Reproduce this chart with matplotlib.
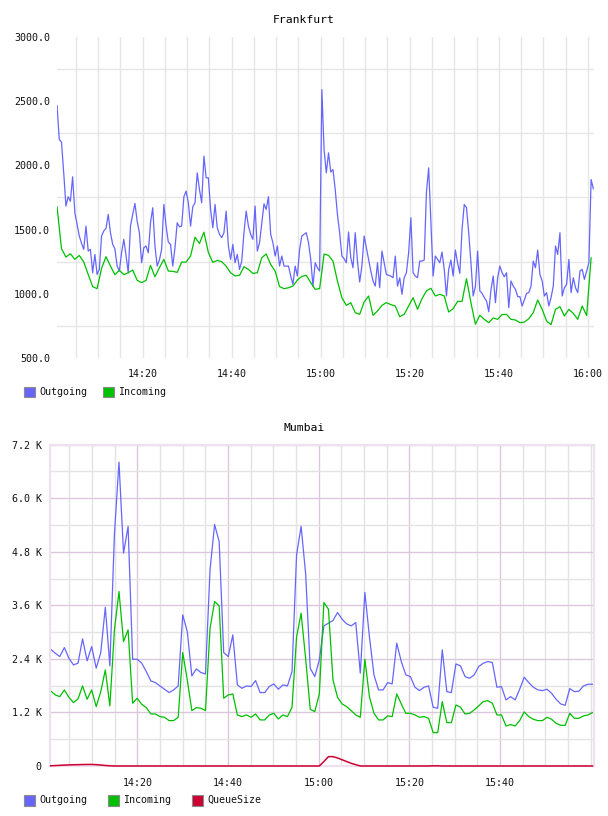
import matplotlib
matplotlib.use("Agg")
import matplotlib.pyplot as plt
from matplotlib.ticker import FixedLocator, MultipleLocator, FuncFormatter
from matplotlib.patches import Rectangle

# all x values are minutes after 14:00
fra_out_start, fra_out_step = 0.75, 0.5
fra_in_start, fra_in_step = 0.75, 1.0
mum_start, mum_step = 0.9, 1.004

fra_outgoing = [
    2466, 2202, 2181, 1942, 1683, 1756, 1720, 1911, 1631, 1540,
    1450, 1393, 1346, 1527, 1333, 1346, 1164, 1307, 1151, 1190,
    1450, 1489, 1510, 1618, 1476, 1385, 1351, 1216, 1177, 1320,
    1424, 1300, 1164, 1527, 1618, 1704, 1566, 1476, 1242, 1359,
    1372, 1320, 1553, 1670, 1372, 1216, 1263, 1346, 1696, 1527,
    1403, 1385, 1216, 1359, 1553, 1522, 1527, 1756, 1800, 1709,
    1527, 1678, 1709,
    1942, 1813, 1709, 2072, 1903, 1903, 1657,
    1514, 1696, 1514, 1463, 1437, 1476, 1644, 1372, 1268, 1385,
    1242, 1307, 1190, 1255, 1476, 1644, 1527, 1463, 1424, 1683,
    1333, 1398, 1553, 1701, 1657, 1756, 1463, 1398, 1294, 1372,
    1216, 1294, 1216, 1216, 1216, 1138, 1074, 1216, 1138, 1346,
    1450, 1463, 1476, 1398, 1268, 1060, 1242, 1203, 1177, 2590,
    2124, 1942, 2098,
    1948, 1968, 1813, 1618, 1476, 1294, 1273,
    1242, 1481, 1281, 1203, 1476, 1255, 1092, 1216, 1450, 1359,
    1268, 1177, 1100, 1060, 1242, 1047, 1333, 1242, 1151, 1144,
    1138, 1125, 1294, 1060, 1125, 996, 1125, 1164, 1320, 1592,
    1164, 1138, 1125, 1255, 1255, 1263, 1790, 1981, 1553, 1138,
    1294, 1268, 1242, 1325, 1190, 983, 1190, 1263, 1138, 1341,
    1242, 1159, 1502, 1696,
    1670, 1476, 1242, 983, 1056, 1333,
    1022, 1004, 970, 944, 860, 1030, 1138, 931, 1125, 1216,
    1164, 1133, 1164, 892, 1100, 1060, 1035, 978, 978, 905,
    952, 1004, 1009, 1060, 1255, 1203, 1341, 1151, 1100, 983,
    1009, 905, 970, 1060, 1372, 1307, 1476, 983, 1047, 1074,
    1268, 1009, 1125, 1047, 1009, 1177, 1190, 1112, 1177, 1242,
    1890, 1818,
]

fra_incoming = [
    1678, 1351, 1286, 1312, 1268, 1299, 1247, 1151, 1056, 1040,
    1198, 1289, 1216, 1149, 1183, 1149, 1164, 1185, 1105, 1087,
    1105, 1221, 1133, 1203, 1268, 1177, 1175, 1167, 1247, 1247,
    1294, 1441, 1392, 1480, 1322, 1245, 1260, 1250, 1215, 1164,
    1139, 1144, 1211, 1190, 1159, 1164, 1281, 1310, 1229, 1177,
    1056, 1040, 1047, 1060, 1107, 1136, 1144, 1087, 1035, 1040,
    1310, 1299, 1255, 1100, 970, 910, 931, 853, 840, 936,
    983, 833, 866, 910, 931, 916, 905, 822, 840, 905,
    970, 879, 962, 1022, 1043, 983, 996, 983, 858, 884,
    941, 941, 1118, 931, 763, 833, 801, 775, 812, 801,
    838, 840, 801, 796, 775, 780, 806, 853, 952, 879,
    788, 760, 879, 900, 827, 879, 848, 801, 905, 830,
    1280,
]

# Mumbai values in thousands
mum_outgoing = [
    2.617, 2.527, 2.452, 2.654, 2.415, 2.266, 2.303, 2.849, 2.355, 2.677,
    2.191, 2.542, 3.559, 2.243, 5.2, 6.81, 4.77, 5.37, 2.393, 2.393,
    2.303, 2.116, 1.907, 1.869, 1.794, 1.720, 1.645, 1.705, 1.794, 3.387,
    3.013, 2.019, 2.176, 2.094, 2.064, 4.4, 5.41, 5.03, 2.542, 2.452,
    2.938, 1.817, 1.742, 1.794, 1.780, 1.914, 1.645, 1.645, 1.780, 1.839,
    1.720, 1.817, 1.794, 2.116, 4.73, 5.37, 4.3, 2.191, 2.004, 2.378,
    3.140, 3.200, 3.260, 3.439, 3.290, 3.185, 3.140, 3.215, 2.079, 3.89,
    2.9, 2.041, 1.705, 1.705, 1.869, 1.839, 2.752, 2.340, 2.041, 2.004,
    1.765, 1.690, 1.765, 1.794, 1.316, 1.294, 2.602, 1.667, 1.645, 2.288,
    2.243, 2.004, 1.966, 2.041, 2.228, 2.303, 2.340, 2.318, 1.765, 1.780,
    1.480, 1.555, 1.480, 1.720, 1.989, 1.869, 1.765, 1.705, 1.690, 1.720,
    1.630, 1.495, 1.391, 1.361, 1.735, 1.667, 1.675, 1.794, 1.832, 1.832,
]

mum_incoming = [
    1.682, 1.593, 1.555, 1.705, 1.540, 1.421, 1.503, 1.794, 1.495, 1.705,
    1.331, 1.667, 2.153, 1.346, 3.05, 3.91, 2.789, 3.051, 1.406, 1.518,
    1.383, 1.308, 1.166, 1.166, 1.107, 1.092, 1.017, 1.017, 1.092, 2.542,
    1.929, 1.241, 1.308, 1.294, 1.241, 3.088, 3.686, 3.589, 1.518, 1.593,
    1.615, 1.144, 1.107, 1.144, 1.092, 1.166, 1.032, 1.032, 1.144, 1.181,
    1.054, 1.144, 1.107, 1.316, 2.886, 3.424, 2.4, 1.271, 1.219, 1.615,
    3.664, 3.514, 1.929, 1.540, 1.391, 1.331, 1.241, 1.144, 1.092, 2.393,
    1.555, 1.181, 1.032, 1.032, 1.122, 1.107, 1.615, 1.391, 1.181, 1.181,
    1.144, 1.092, 1.107, 1.069, 0.748, 0.748, 1.443, 0.972, 0.972, 1.368,
    1.316, 1.166, 1.181, 1.256, 1.346, 1.443, 1.465, 1.406, 1.144, 1.144,
    0.897, 0.927, 0.897, 1.017, 1.211, 1.107, 1.047, 1.017, 1.017, 1.092,
    1.047, 0.957, 0.912, 0.912, 1.181, 1.069, 1.069, 1.122, 1.144, 1.196,
]

mum_queue = [
    0.005, 0.01, 0.015, 0.02, 0.025, 0.028, 0.03, 0.033, 0.035, 0.035,
    0.03, 0.022, 0.012, 0.005, 0, 0, 0, 0, 0, 0,
    0, 0, 0, 0, 0, 0, 0, 0, 0, 0,
    0, 0, 0, 0, 0, 0, 0, 0, 0, 0,
    0, 0, 0, 0, 0, 0, 0, 0, 0, 0,
    0, 0, 0, 0, 0, 0, 0, 0, 0, 0,
    0.1, 0.21, 0.21, 0.18, 0.14, 0.1, 0.06, 0.03, 0, 0,
    0, 0, 0, 0, 0, 0, 0, 0, 0, 0,
    0, 0, 0, 0, 0.004, 0.004, 0, 0, 0, 0,
    0, 0, 0, 0, 0, 0, 0, 0, 0, 0,
    0, 0, 0, 0, 0, 0, 0, 0, 0, 0,
    0, 0, 0, 0, 0, 0, 0, 0, 0, 0,
]

series_labels = ["Outgoing", "Incoming", "QueueSize"]
colors = ["#6666ff", "#00c000", "#cc0033"]

W, H = 608, 816
plt.rcParams['font.family'] = ['DejaVu Sans Mono']

def times(start, step, n):
    return [start + i * step for i in range(n)]

def hhmm(m, pos):
    m = int(round(m))
    return "%d:%02d" % (14 + m // 60, m % 60)

def box(l, t, r, b):
    # pixel box -> figure fraction rect
    return [l / W, 1 - b / H, (r - l) / W, (b - t) / H]

def legend_row(fig, y, items):
    for x, label, color in items:
        fig.add_artist(Rectangle((x / W, 1 - (y + 5.5) / H), 11 / W, 11 / H,
                                 transform=fig.transFigure, facecolor=color,
                                 edgecolor="#8a8a8a", lw=0.8))
        fig.text((x + 15) / W, 1 - y / H, label, fontsize=7.2, va="center",
                 ha="left", color="#111111")

fig = plt.figure(figsize=(W / 100, H / 100), dpi=100)

# ---- Frankfurt
ax = fig.add_axes(box(57, 37, 594, 358))
ax.plot(times(fra_out_start, fra_out_step, len(fra_outgoing)), fra_outgoing,
        color=colors[0], lw=0.9)
ax.plot(times(fra_in_start, fra_in_step, len(fra_incoming)), fra_incoming,
        color=colors[1], lw=0.9)
ax.set_xlim(0.74, 121.4)
ax.set_ylim(500, 3000)
ax.xaxis.set_major_locator(FixedLocator([20, 40, 60, 80, 100, 120]))
ax.xaxis.set_minor_locator(MultipleLocator(5))
ax.xaxis.set_major_formatter(FuncFormatter(hhmm))
ax.yaxis.set_major_locator(MultipleLocator(500))
ax.yaxis.set_minor_locator(FixedLocator([750, 1250, 1750, 2250, 2750]))
ax.yaxis.set_major_formatter(FuncFormatter(lambda v, p: "%.1f" % v))
ax.grid(which="both", axis="x", color="#e6e6e6", lw=1)
ax.grid(which="minor", axis="y", color="#e6e6e6", lw=1)
ax.set_axisbelow(True)
for s in ax.spines.values():
    s.set_visible(False)
ax.tick_params(which="both", length=0, labelsize=7.2, colors="#111111")
ax.tick_params(axis="x", pad=8)
ax.tick_params(axis="y", pad=5)
fig.text(0.5, 1 - 20 / H, "Frankfurt", ha="center", va="center", fontsize=8.2)
legend_row(fig, 392, [(24, series_labels[0], colors[0]),
                      (103, series_labels[1], colors[1])])

# ---- Mumbai
ax2 = fig.add_axes(box(50, 444.7, 594, 766))
mt = times(mum_start, mum_step, len(mum_outgoing))
ax2.plot(mt, mum_outgoing, color=colors[0], lw=0.9)
ax2.plot(mt, mum_incoming, color=colors[1], lw=0.9)
ax2.plot(mt, mum_queue, color=colors[2], lw=1.1, clip_on=False, zorder=4)
ax2.set_xlim(0.75, 120.7)
ax2.set_ylim(0, 7.2)
ax2.xaxis.set_major_locator(FixedLocator([20, 40, 60, 80, 100]))
ax2.xaxis.set_minor_locator(MultipleLocator(5))
ax2.xaxis.set_major_formatter(FuncFormatter(hhmm))
ax2.yaxis.set_major_locator(MultipleLocator(1.2))
ax2.yaxis.set_minor_locator(MultipleLocator(0.6))
ax2.yaxis.set_major_formatter(FuncFormatter(lambda v, p: "0" if v == 0 else "%.1f K" % v))
ax2.grid(which="minor", color="#e3e3e3", lw=1)
ax2.grid(which="major", color="#dcc8dc", lw=1)
ax2.set_axisbelow(True)
for s in ax2.spines.values():
    s.set_color("#efe0ef")
    s.set_linewidth(1.5)
ax2.tick_params(which="both", length=0, labelsize=7.2, colors="#111111")
ax2.tick_params(axis="x", pad=9)
ax2.tick_params(axis="y", pad=6)
fig.text(0.5, 1 - 428 / H, "Mumbai", ha="center", va="center", fontsize=8.2)
legend_row(fig, 800, [(24, series_labels[0], colors[0]),
                      (108, series_labels[1], colors[1]),
                      (192, series_labels[2], colors[2])])

fig.savefig("out.png", dpi=100, facecolor="white")
